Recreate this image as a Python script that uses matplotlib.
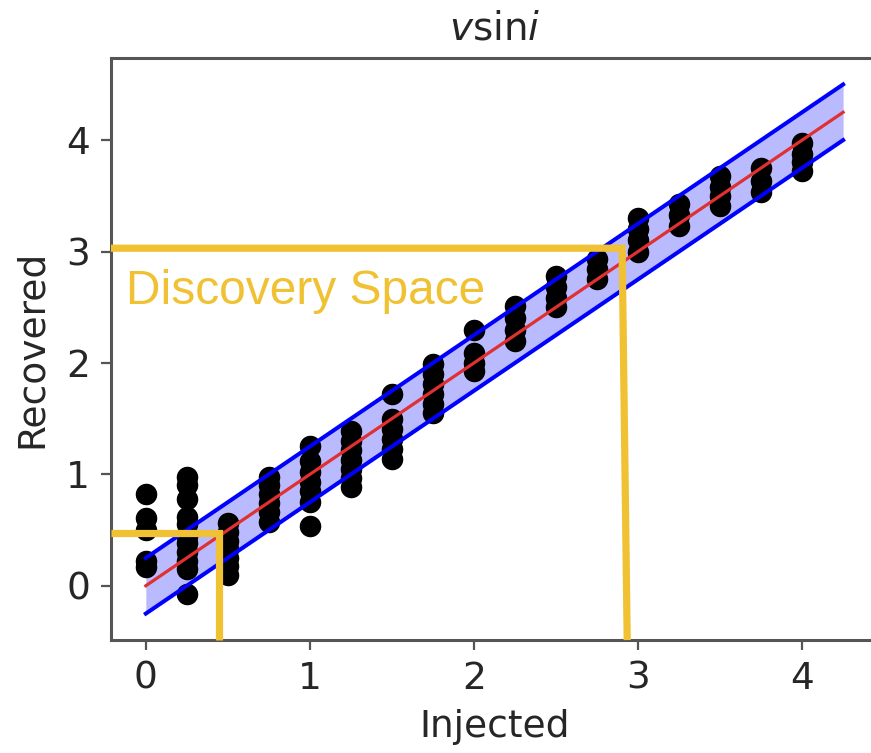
import matplotlib
matplotlib.use("Agg")
import matplotlib.pyplot as plt
import numpy as np

# injected grid and recovered values per injection
INJECTED = [0.0, 0.25, 0.5, 0.75, 1.0, 1.25, 1.5, 1.75, 2.0,
            2.25, 2.5, 2.75, 3.0, 3.25, 3.5, 3.75, 4.0]
RECOVERED = [
    [0.82, 0.61, 0.50, 0.22, 0.17],
    [0.98, 0.90, 0.78, 0.62, 0.55, 0.45, 0.38, 0.30, 0.22, 0.15, -0.07],
    [0.56, 0.48, 0.40, 0.33, 0.25, 0.18, 0.10],
    [0.98, 0.90, 0.82, 0.74, 0.66, 0.57],
    [1.25, 1.12, 1.02, 0.93, 0.85, 0.75, 0.54],
    [1.39, 1.30, 1.22, 1.13, 1.05, 0.97, 0.89],
    [1.72, 1.50, 1.41, 1.32, 1.23, 1.14],
    [1.99, 1.90, 1.81, 1.72, 1.63, 1.55],
    [2.30, 2.09, 2.00, 1.93],
    [2.51, 2.40, 2.30, 2.20],
    [2.78, 2.68, 2.58, 2.50],
    [2.93, 2.84, 2.75],
    [3.30, 3.20, 3.10, 3.00],
    [3.43, 3.33, 3.23],
    [3.68, 3.58, 3.50, 3.41],
    [3.75, 3.63, 3.53],
    [3.97, 3.88, 3.80, 3.72],
]

# one-to-one line and tolerance band
LINE_X = [0.0, 4.25]
BAND_HALF = 0.25

# discovery space outlines (injected, recovered corners)
BIG_BOX_X = [2.903, 2.934]
BIG_BOX_Y = 3.03
SMALL_BOX_X = 0.444
SMALL_BOX_Y = 0.475

YELLOW = "#f0c133"
TEXT = "#262626"

plt.rcParams["font.family"] = "DejaVu Sans"
fig = plt.figure(figsize=(8.71, 7.53), dpi=100)
ax = fig.add_axes([0.1274, 0.150, 0.8806, 0.773])

lx = np.array(LINE_X)
ax.fill_between(lx, lx - BAND_HALF, lx + BAND_HALF, color="blue",
                alpha=0.27, linewidth=0, zorder=1)

xs = np.concatenate([[x] * len(r) for x, r in zip(INJECTED, RECOVERED)])
ys = np.concatenate(RECOVERED)
ax.scatter(xs, ys, s=210, color="black", zorder=2)

ax.plot(lx, lx + BAND_HALF, color="blue", lw=2.9, zorder=4)
ax.plot(lx, lx - BAND_HALF, color="blue", lw=2.9, zorder=4)
ax.plot(lx, lx, color="#e03030", lw=2.3, zorder=4)

x0, x1 = -0.2125, 4.4625
y0, y1 = -0.4875, 4.7375
ax.set_xlim(x0, x1)
ax.set_ylim(y0, y1)

ax.plot([x0, BIG_BOX_X[0], BIG_BOX_X[1]], [BIG_BOX_Y, BIG_BOX_Y, y0],
        color=YELLOW, lw=5.2, solid_joinstyle="miter",
        solid_capstyle="butt", zorder=6, clip_on=False)
ax.plot([x0, SMALL_BOX_X, SMALL_BOX_X], [SMALL_BOX_Y, SMALL_BOX_Y, y0],
        color=YELLOW, lw=5.2, solid_joinstyle="miter",
        solid_capstyle="butt", zorder=6, clip_on=False)
ax.text(-0.12, 2.53, "Discovery Space", color=YELLOW, fontsize=34.5,
        family="Liberation Sans", va="baseline", ha="left", zorder=6)

ax.set_xticks([0, 1, 2, 3, 4])
ax.set_yticks([0, 1, 2, 3, 4])
ax.tick_params(labelsize=27, length=7, width=1.6, pad=8, color="#555555",
               labelcolor=TEXT)
for sp in ax.spines.values():
    sp.set_linewidth(2.2)
    sp.set_color("#555555")

ax.set_xlabel("Injected", fontsize=27, labelpad=9, color=TEXT)
ax.set_ylabel("Recovered", fontsize=27, labelpad=12, color=TEXT)
ax.set_title(r"$v$sin$i$", fontsize=28, pad=13, color=TEXT)

fig.savefig("out.png", dpi=100)
